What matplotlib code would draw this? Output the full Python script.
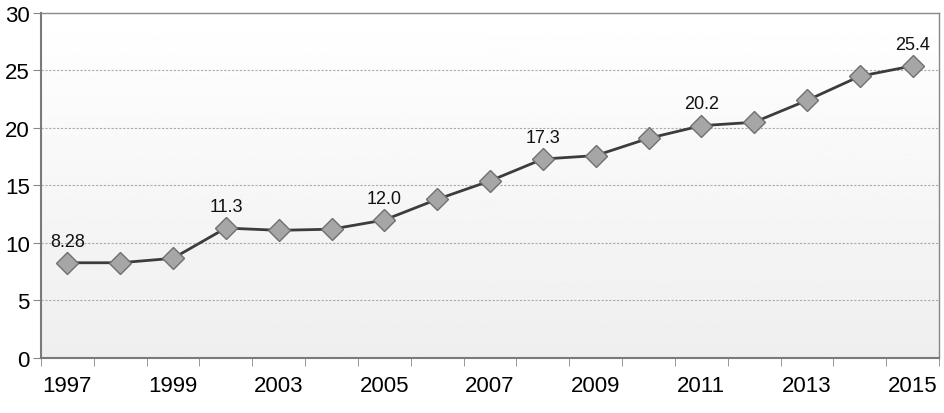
import numpy as np
import matplotlib.pyplot as plt

plt.rcParams['font.family'] = ['Liberation Sans', 'DejaVu Sans']

# categories along the x axis (every other one is labelled)
years = ['1997', '1998', '1999', '2001', '2003', '2004', '2005', '2006', '2007',
         '2008', '2009', '2010', '2011', '2012', '2013', '2014', '2015']
values = [8.28, 8.28, 8.67, 11.3, 11.1, 11.2, 12.0, 13.8, 15.4,
          17.3, 17.6, 19.1, 20.2, 20.5, 22.4, 24.5, 25.4]
labelled = ['1997', '1999', '2003', '2005', '2007', '2009', '2011', '2013', '2015']
annotated = ['1997', '2001', '2005', '2008', '2011', '2015']
annot_text = ['8.28', '11.3', '12.0', '17.3', '20.2', '25.4']

fig = plt.figure(figsize=(9.45, 4.14), dpi=100)
ax = fig.add_axes([0.0434, 0.1329, 0.9503, 0.8333])

x = np.arange(len(years))
ax.set_xlim(-0.5, len(years) - 0.5)
ax.set_ylim(0, 30)

# gradient background, white at top to light grey at bottom
grad = np.linspace(0.935, 1.0, 256).reshape(-1, 1)
ax.imshow(grad, extent=[-0.5, len(years) - 0.5, 0, 30], origin='lower',
          cmap='gray', vmin=0, vmax=1, aspect='auto', zorder=0)

for yv in [5, 10, 15, 20, 25]:
    ax.axhline(yv, color='#aaaaaa', lw=0.8, ls=(0, (2, 1.5)), zorder=1)

ax.plot(x, values, color='#3c3c3c', lw=2, marker='D', markersize=11,
        markerfacecolor='#a6a6a6', markeredgecolor='#707070', markeredgewidth=1, zorder=3)

# value labels on some points
for yr, txt in zip(annotated, annot_text):
    i = years.index(yr)
    ax.annotate(txt, (x[i], values[i]), xytext=(0, 9.5), textcoords='offset points',
                ha='center', va='bottom', fontsize=13, color='#111111', zorder=4)

ax.set_yticks([0, 5, 10, 15, 20, 25, 30])
ax.set_yticklabels(['0', '5', '10', '15', '20', '25', '30'], fontsize=16)

ax.set_xticks(np.arange(len(years) + 1) - 0.5, minor=True)
ax.set_xticks([years.index(l) for l in labelled])
ax.set_xticklabels(labelled, fontsize=16)
ax.tick_params(axis='x', which='major', length=0, pad=12)
ax.tick_params(axis='x', which='minor', length=6, color='#888888')
ax.tick_params(axis='y', length=6, color='#888888', pad=2)

for s in ['left', 'bottom']:
    ax.spines[s].set_color('#7a7a7a')
    ax.spines[s].set_linewidth(1.5)
for s in ['top', 'right']:
    ax.spines[s].set_color('#888888')
    ax.spines[s].set_linewidth(1)

fig.savefig('out.png', dpi=100)
